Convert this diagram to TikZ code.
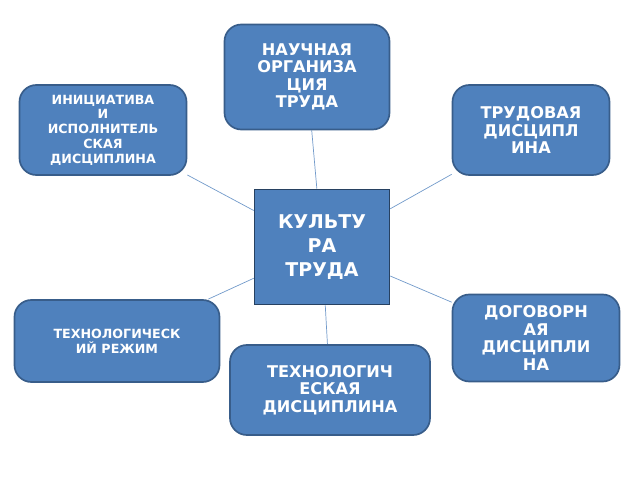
\documentclass[tikz,border=0pt]{standalone}
\usepackage{fontspec}
\setmainfont{DejaVu Sans}
\usetikzlibrary{backgrounds}
\definecolor{boxblue}{HTML}{4F81BD}
\definecolor{boxedge}{HTML}{385D8A}
\begin{document}
\begin{tikzpicture}[
    x=0.025cm, y=-0.025cm,
    topic/.style={draw=boxedge, fill=boxblue, line width=1.2pt, rounded corners=12pt,
        text=white, align=center, font=\bfseries\fontsize{11.5}{12.5}\selectfont, inner sep=1pt},
    small/.style={font=\bfseries\fontsize{9}{10.5}\selectfont},
    link/.style={draw=boxblue!80, line width=0.5pt}
]
\useasboundingbox (0,0) rectangle (640,480);

% Center
\node[draw=boxedge!70!black, fill=boxblue, line width=1.2pt, minimum width=135*0.025cm, minimum height=115*0.025cm,
    text=white, align=center, font=\bfseries\fontsize{13.5}{17}\selectfont] (culture) at (322,247) {КУЛЬТУ\\РА\\ТРУДА};

% Topics
\node[topic, minimum width=165*0.025cm, minimum height=105*0.025cm] (science) at (307,77) {НАУЧНАЯ\\ОРГАНИЗА\\ЦИЯ\\ТРУДА};
\node[topic, small, minimum width=167*0.025cm, minimum height=90*0.025cm] (init) at (103,130) {ИНИЦИАТИВА\\И\\ИСПОЛНИТЕЛЬ\\СКАЯ\\ДИСЦИПЛИНА};
\node[topic, minimum width=157*0.025cm, minimum height=90*0.025cm] (labour) at (531,130) {ТРУДОВАЯ\\ДИСЦИПЛ\\ИНА};
\node[topic, small, minimum width=205*0.025cm, minimum height=82*0.025cm] (regime) at (117,341) {ТЕХНОЛОГИЧЕСК\\ИЙ РЕЖИМ};
\node[topic, minimum width=167*0.025cm, minimum height=87*0.025cm] (contract) at (536,338) {ДОГОВОРН\\АЯ\\ДИСЦИПЛИ\\НА};
\node[topic, minimum width=200*0.025cm, minimum height=90*0.025cm] (tech) at (330,390) {ТЕХНОЛОГИЧ\\ЕСКАЯ\\ДИСЦИПЛИНА};

% Links
\begin{scope}[on background layer]
\draw[link] (culture) -- (science);
\draw[link] (culture) -- (init);
\draw[link] (culture) -- (labour);
\draw[link] (culture) -- (regime);
\draw[link] (culture) -- (contract);
\draw[link] (culture) -- (tech);
\end{scope}
\end{tikzpicture}
\end{document}
